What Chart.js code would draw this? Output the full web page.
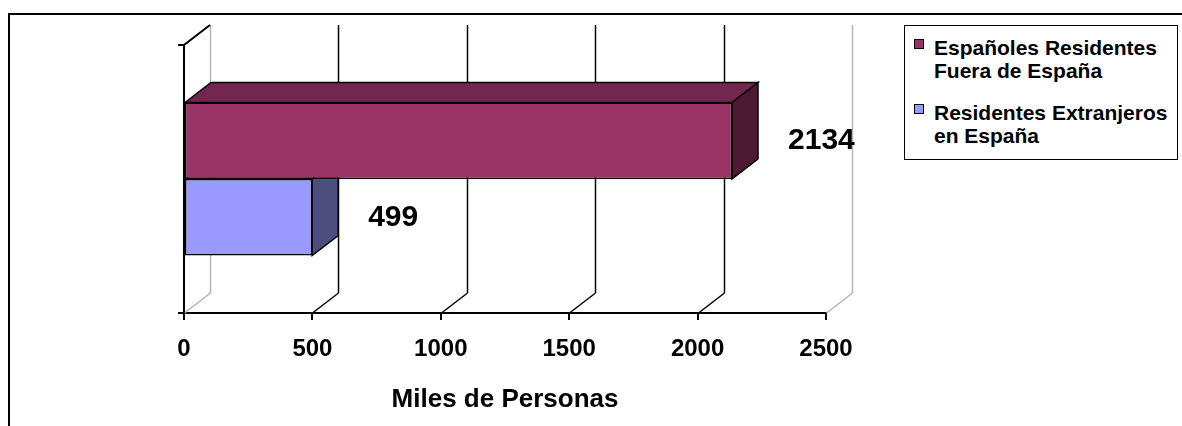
<!DOCTYPE html>
<html>
<head>
<meta charset="utf-8">
<script src="https://cdn.jsdelivr.net/npm/chart.js@4.4.1/dist/chart.umd.min.js"></script>
<style>
  html, body { margin: 0; padding: 0; background: #fff; }
  #wrap { position: relative; width: 1182px; height: 426px; overflow: hidden; }
  #legend {
    position: absolute; left: 904px; top: 25px; width: 274px; height: 135px;
    box-sizing: border-box; border: 1.5px solid #000; background: #fff;
    font: bold 21px 'Liberation Sans', Arial, sans-serif; color: #000;
  }
  .item { position: absolute; left: 9px; width: 262px; line-height: 23px; }
  .item .box {
    position: absolute; left: 0; top: 3px; width: 10px; height: 10px;
    box-sizing: border-box; border: 1.5px solid #000;
  }
  .item .txt { margin-left: 20px; display: block; }
</style>
</head>
<body>
<div id="wrap">
  <canvas id="chart" width="1182" height="426"></canvas>
  <div id="legend"></div>
</div>
<script>
// data
const categories = [''];
const seriesNames = ['Españoles Residentes Fuera de España', 'Residentes Extranjeros en España'];
const espanolesFuera = [2134];
const extranjerosEnEspana = [499];
const xTicks = [0, 500, 1000, 1500, 2000, 2500];
const axisTitle = 'Miles de Personas';

const FONT = "'Liberation Sans', Arial, sans-serif";
const DX = 26, DY = -20; // 3d depth

const datasets = [
  { label: seriesNames[0], data: espanolesFuera, backgroundColor: '#993366', topColor: '#732650', sideColor: '#4d1a33' },
  { label: seriesNames[1], data: extranjerosEnEspana, backgroundColor: '#9999ff', topColor: '#7373bf', sideColor: '#4d4d80' }
];

function poly(ctx, pts, fill) {
  ctx.beginPath();
  ctx.moveTo(pts[0][0], pts[0][1]);
  for (let i = 1; i < pts.length; i++) ctx.lineTo(pts[i][0], pts[i][1]);
  ctx.closePath();
  ctx.fillStyle = fill;
  ctx.fill();
  ctx.lineWidth = 1.5;
  ctx.strokeStyle = '#000';
  ctx.stroke();
}

function line(ctx, x1, y1, x2, y2, color, w) {
  ctx.beginPath();
  ctx.moveTo(x1, y1);
  ctx.lineTo(x2, y2);
  ctx.strokeStyle = color;
  ctx.lineWidth = w;
  ctx.stroke();
}

const frame3d = {
  id: 'frame3d',
  beforeDraw(chart) {
    const ctx = chart.ctx;
    ctx.save();
    ctx.fillStyle = '#fff';
    ctx.fillRect(0, 0, chart.width, chart.height);
    ctx.strokeStyle = '#000';
    ctx.lineWidth = 2;
    ctx.strokeRect(9, 14, chart.width + 20, chart.height + 20);
    ctx.restore();
  },
  beforeDatasetsDraw(chart) {
    const ctx = chart.ctx;
    const { top, bottom, left } = chart.chartArea;
    const xs = chart.scales.x;
    ctx.save();
    // back wall grid + floor
    xTicks.forEach((v, i) => {
      const px = Math.round(xs.getPixelForValue(v)) + 0.5;
      const edge = i === 0 || i === xTicks.length - 1;
      const col = edge ? '#b4b4b4' : '#000';
      line(ctx, px + DX, top + DY, px + DX, bottom + DY, col, 1.5);
      line(ctx, px, bottom, px + DX, bottom + DY, col, 1.5);
    });
    // left wall top edge
    line(ctx, left, top, left + DX, top + DY, '#000', 2);
    // bar top and side faces, back bars first
    for (let d = chart.data.datasets.length - 1; d >= 0; d--) {
      const ds = chart.data.datasets[d];
      chart.getDatasetMeta(d).data.forEach(el => {
        const { x, y, base, height } = el.getProps(['x', 'y', 'base', 'height'], true);
        const t = y - height / 2, b = y + height / 2;
        poly(ctx, [[base, t], [base + DX, t + DY], [x + DX, t + DY], [x, t]], ds.topColor);
        poly(ctx, [[x, t], [x + DX, t + DY], [x + DX, b + DY], [x, b]], ds.sideColor);
      });
    }
    ctx.restore();
  },
  afterDatasetsDraw(chart) {
    const ctx = chart.ctx;
    const { top, bottom, left } = chart.chartArea;
    ctx.save();
    // front y axis
    line(ctx, left, top, left, bottom + 1, '#000', 2);
    line(ctx, left - 6, top, left, top, '#000', 2);
    line(ctx, left - 6, bottom, left, bottom, '#000', 2);
    // value labels
    ctx.fillStyle = '#000';
    ctx.font = 'bold 30px ' + FONT;
    ctx.textAlign = 'left';
    ctx.textBaseline = 'middle';
    chart.data.datasets.forEach((ds, d) => {
      chart.getDatasetMeta(d).data.forEach((el, i) => {
        const { x, y } = el.getProps(['x', 'y'], true);
        ctx.fillText(String(ds.data[i]), x + DX + 30, y);
      });
    });
    ctx.restore();
  }
};

new Chart(document.getElementById('chart'), {
  type: 'bar',
  data: {
    labels: categories,
    datasets: datasets.map(ds => ({
      ...ds,
      borderColor: '#000',
      borderWidth: 1.5,
      borderSkipped: false,
      categoryPercentage: 0.571,
      barPercentage: 1
    }))
  },
  options: {
    indexAxis: 'y',
    responsive: false,
    animation: false,
    devicePixelRatio: 1,
    layout: { padding: { left: 184, top: 45, right: 356, bottom: 0 } },
    plugins: { legend: { display: false }, tooltip: { enabled: false } },
    scales: {
      y: { display: false },
      x: {
        min: xTicks[0],
        max: xTicks[xTicks.length - 1],
        afterBuildTicks: s => { s.ticks = xTicks.map(v => ({ value: v })); },
        afterFit: s => { s.height = 113; },
        grid: { drawOnChartArea: false, drawTicks: true, tickLength: 7, color: '#000', lineWidth: 2 },
        border: { display: true, color: '#000', width: 2 },
        ticks: {
          color: '#000',
          padding: 15,
          maxRotation: 0,
          callback: v => String(v),
          font: { family: FONT, size: 24, weight: 'bold' }
        },
        title: {
          display: true,
          text: axisTitle,
          color: '#000',
          padding: { top: 0, bottom: 11 },
          font: { family: FONT, size: 26, weight: 'bold' }
        }
      }
    }
  },
  plugins: [frame3d]
});

// legend built from the datasets
const legend = document.getElementById('legend');
const tops = [10, 75];
datasets.forEach((ds, i) => {
  const item = document.createElement('div');
  item.className = 'item';
  item.style.top = tops[i] + 'px';
  const box = document.createElement('span');
  box.className = 'box';
  box.style.background = ds.backgroundColor;
  const txt = document.createElement('span');
  txt.className = 'txt';
  txt.textContent = ds.label;
  item.appendChild(box);
  item.appendChild(txt);
  legend.appendChild(item);
});
</script>
</body>
</html>
